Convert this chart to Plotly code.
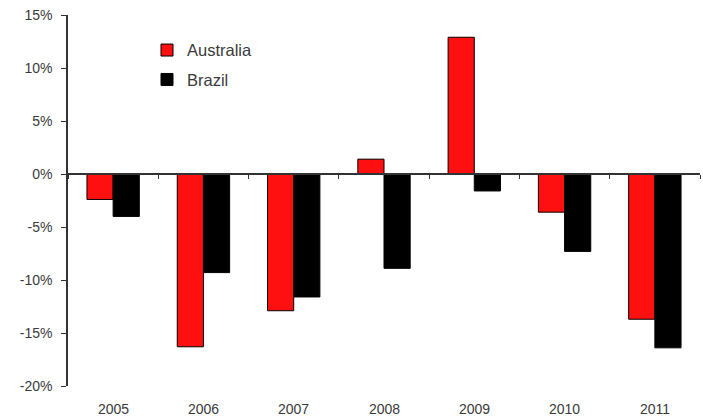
import plotly.graph_objects as go

# Annual change by country
years = ["2005", "2006", "2007", "2008", "2009", "2010", "2011"]
australia = [-2.4, -16.3, -12.9, 1.4, 12.9, -3.6, -13.7]
brazil = [-4.0, -9.3, -11.6, -8.9, -1.6, -7.3, -16.4]

y_ticks = [15, 10, 5, 0, -5, -10, -15, -20]
y_tick_labels = ["15%", "10%", "5%", "0%", "-5%", "-10%", "-15%", "-20%"]

y_min, y_max = -20, 15
font_family = "Liberation Sans, Arial, sans-serif"
text_color = "#3a3a3a"

fig = go.Figure()
fig.add_trace(go.Bar(
    x=years, y=australia, name="Australia",
    marker=dict(color="#ff1010", line=dict(color="#000000", width=1)),
    legendgroup="a",
))
fig.add_trace(go.Bar(
    x=years, y=brazil, name="Brazil",
    marker=dict(color="#000000", line=dict(color="#000000", width=1)),
    legendgroup="b",
))

# category labels sit below the plot area while the axis line runs along zero
for i, yr in enumerate(years):
    fig.add_annotation(
        x=i, y=0, xref="x", yref="paper", yanchor="top",
        text=yr, showarrow=False, yshift=-13,
        font=dict(family=font_family, size=14, color=text_color),
    )

fig.update_layout(
    width=703, height=416,
    margin=dict(l=68, r=3, t=15, b=30),
    plot_bgcolor="white", paper_bgcolor="white",
    barmode="group", bargap=0.42, bargroupgap=0,
    showlegend=True,
    legend=dict(
        x=0.125, y=0.952, xanchor="left", yanchor="top",
        bgcolor="rgba(0,0,0,0)", tracegroupgap=5,
        font=dict(family=font_family, size=16.5, color=text_color),
    ),
    xaxis=dict(
        type="category", range=[-0.5, len(years) - 0.5],
        anchor="free", position=(0 - y_min) / (y_max - y_min),
        showline=True, linecolor="#333333", linewidth=1.5,
        ticks="outside", tickson="boundaries", ticklen=4,
        tickcolor="#333333", showticklabels=False, showgrid=False,
        zeroline=False,
    ),
    yaxis=dict(
        range=[y_min, y_max], tickvals=y_ticks, ticktext=y_tick_labels,
        showline=True, linecolor="#333333", linewidth=1.5,
        ticks="outside", ticklen=5, tickcolor="#333333",
        showgrid=False, zeroline=False, ticklabelstandoff=6,
        tickfont=dict(family=font_family, size=14, color=text_color),
    ),
)

fig.write_html("out.html")
